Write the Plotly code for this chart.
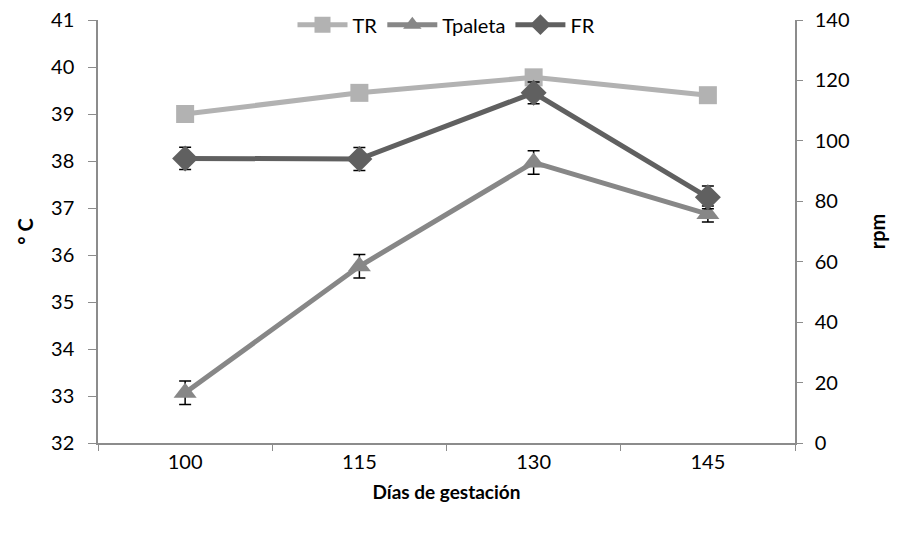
import plotly.graph_objects as go

dias = ["100", "115", "130", "145"]
tr = [39.0, 39.45, 39.78, 39.40]
tpaleta = [33.07, 35.76, 37.97, 36.87]
tpaleta_err = [0.25, 0.25, 0.25, 0.17]
fr = [94.2, 94.0, 115.9, 81.3]
fr_err = [3.7, 3.8, 3.6, 3.8]

FONT = "Lato"
AXC = "#8c8c8c"

fig = go.Figure()
fig.add_trace(go.Scatter(
    x=dias, y=tr, name="TR", mode="lines+markers",
    line=dict(color="#b2b2b2", width=5),
    marker=dict(symbol="square", size=18, color="#b2b2b2"),
))
fig.add_trace(go.Scatter(
    x=dias, y=tpaleta, name="Tpaleta", mode="lines+markers",
    line=dict(color="#878787", width=5),
    marker=dict(symbol="triangle-up", size=20, color="#878787"),
    error_y=dict(type="data", array=tpaleta_err, color="black", thickness=1.5, width=6),
))
fig.add_trace(go.Scatter(
    x=dias, y=fr, name="FR", mode="lines+markers", yaxis="y2",
    line=dict(color="#606060", width=5),
    marker=dict(symbol="diamond", size=20, color="#606060"),
    error_y=dict(type="data", array=fr_err, color="black", thickness=1.5, width=6),
))

fig.update_layout(
    width=901, height=534,
    margin=dict(l=98, r=106, t=20, b=91, autoexpand=False),
    paper_bgcolor="white", plot_bgcolor="white",
    font=dict(family=FONT, size=20, color="black"),
    showlegend=True,
    legend=dict(orientation="h", x=0.5, xanchor="center", y=1.035, yanchor="top",
                bgcolor="rgba(0,0,0,0)", font=dict(size=20), itemwidth=50),
    xaxis=dict(
        type="category", tickson="boundaries", range=[-0.5, 3.5],
        showline=True, linecolor=AXC, linewidth=1.5,
        ticks="outside", ticklen=6, tickcolor=AXC, showgrid=False, zeroline=False,
        title=dict(text="<b>Días de gestación</b>", font=dict(size=19), standoff=14),
    ),
    yaxis=dict(
        range=[32, 41], dtick=1, showline=True, linecolor=AXC, linewidth=1.5,
        ticks="outside", ticklen=8, tickcolor=AXC, showgrid=False, zeroline=False,
        ticklabelstandoff=10,
        title=dict(text="<b>° C</b>", font=dict(size=20), standoff=12),
    ),
    yaxis2=dict(
        range=[0, 140], dtick=20, overlaying="y", side="right",
        showline=True, linecolor=AXC, linewidth=1.5,
        ticks="outside", ticklen=6, tickcolor=AXC, showgrid=False, zeroline=False,
        ticklabelstandoff=8,
        title=dict(text="<b>rpm</b>", font=dict(size=20), standoff=22),
    ),
)

fig.write_html("out.html")
